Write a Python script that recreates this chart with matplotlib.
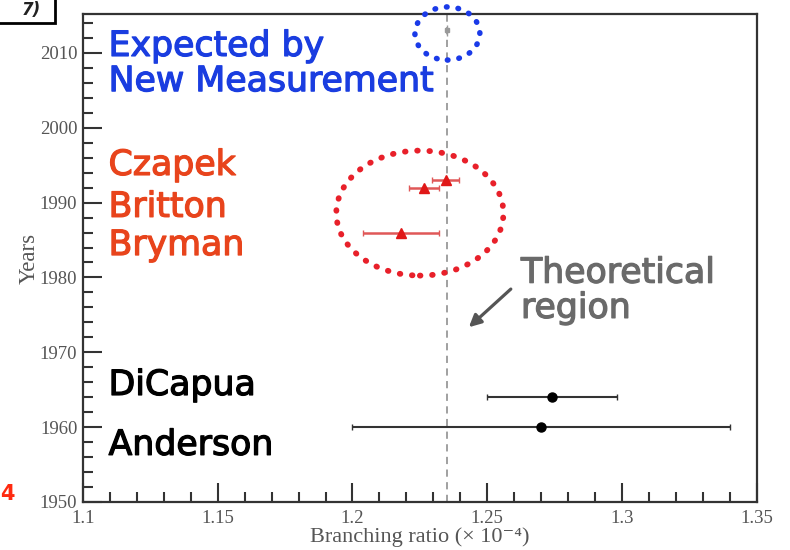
import numpy as np
import matplotlib
matplotlib.use('Agg')
import matplotlib.pyplot as plt
import matplotlib.patheffects as pe
from matplotlib.patches import Ellipse, Rectangle
from matplotlib.ticker import MultipleLocator

# measurements (branching ratio x 1e-4 vs year)
old_names = ['Anderson', 'DiCapua']
old_years = [1960, 1964]
old_br = [1.270, 1.274]
old_err = [0.070, 0.024]

new_names = ['Bryman', 'Britton', 'Czapek']
new_years = [1986, 1992, 1993]
new_br = [1.218, 1.2265, 1.2346]
new_err = [0.014, 0.0056, 0.005]

exp_year = 2013
exp_br = 1.2352
exp_err = 0.0005

theory_br = 1.2352

fig = plt.figure(figsize=(7.9, 5.5), dpi=100)
ax = fig.add_axes([0.105, 0.0873, 0.853, 0.8872])

serif = ['Liberation Serif', 'DejaVu Serif']
sans = ['DejaVu Sans']

ax.axvline(theory_br, color='#999999', lw=1.3, ls=(0, (4, 3)), zorder=1)

ax.errorbar(old_br, old_years, xerr=old_err, fmt='o', color='black',
            ecolor='#333333', ms=6.5, lw=1.5, capsize=2, capthick=1, zorder=3)
ax.errorbar(new_br, new_years, xerr=new_err, fmt='^', color='#e01818',
            ecolor='#e05858', ms=7.5, lw=1.8, capsize=2, capthick=1, zorder=3)
ax.errorbar([exp_br], [exp_year], xerr=[exp_err], yerr=[0.8], fmt='s',
            color='#999999', ms=3, lw=1, zorder=3)

# dotted circles
red_ring = Ellipse((1.225, 1988.6), 0.062, 16.7, fill=False, ec='#e8202a',
                   lw=4.2, ls=(0, (0.1, 2.0)), capstyle='round', zorder=4)
ax.add_patch(red_ring)
blue_ring = Ellipse((1.2352, 2012.6), 0.0241, 7.1, fill=False, ec='#1a3ae8',
                    lw=4.0, ls=(0, (0.1, 2.0)), capstyle='round', zorder=4,
                    clip_on=False)
ax.add_patch(blue_ring)

# annotations (baseline positions), regular font thickened a little
blue = '#1a3de0'
red = '#e8441c'
grey = '#6a6a6a'
fs = 25


def label_text(x, y, s, col):
    t = ax.text(x, y, s, color=col, fontsize=fs, family=sans,
                va='baseline', ha='left')
    t.set_path_effects([pe.Stroke(linewidth=0.9, foreground=col), pe.Normal()])
    return t


labels = [('Expected by', 2009.6, blue), ('New Measurement', 2004.9, blue),
          ('Czapek', 1993.7, red), ('Britton', 1988.1, red),
          ('Bryman', 1983.0, red), ('DiCapua', 1964.3, 'black'),
          ('Anderson', 1956.3, 'black')]
for label, yy, col in labels:
    label_text(1.1095, yy, label, col)
label_text(1.2625, 1979.3, 'Theoretical', grey)
label_text(1.2625, 1974.6, 'region', grey)
ax.annotate('', xy=(1.2424, 1973.1), xytext=(1.2595, 1978.7),
            arrowprops=dict(arrowstyle='-|>', color='#555555', lw=2.3,
                            mutation_scale=18))

ax.set_xlim(1.1, 1.35)
ax.set_ylim(1950, 2015.2)
ax.xaxis.set_minor_locator(MultipleLocator(0.01))
ax.yaxis.set_minor_locator(MultipleLocator(2))
ax.set_xticks([1.1, 1.15, 1.2, 1.25, 1.3, 1.35])
ax.set_xticklabels(['1.1', '1.15', '1.2', '1.25', '1.3', '1.35'])
ax.set_yticks([1950, 1960, 1970, 1980, 1990, 2000, 2010])
ax.tick_params(which='both', direction='in', top=False, right=False,
               color='#333333', labelcolor='#555555', labelsize=13.5)
ax.tick_params(which='major', length=14, width=1.5)
ax.tick_params(which='minor', length=7.5, width=1.5)
ax.tick_params(axis='x', pad=6)
ax.tick_params(axis='y', pad=4)
for lab in ax.get_xticklabels() + ax.get_yticklabels():
    lab.set_family(serif)
for sp in ax.spines.values():
    sp.set_color('#333333')
    sp.set_linewidth(1.6)

ax.set_xlabel('Branching ratio (× 10⁻⁴)', family=serif, fontsize=16,
              color='#555555', labelpad=0)
ax.set_ylabel('Years', family=serif, fontsize=16.5, color='#555555',
              labelpad=0)

# cropped panel label and stray marker from the source slide
fig.patches.append(Rectangle((-0.01, 0.958), 0.08, 0.06, fill=False,
                             ec='black', lw=2, transform=fig.transFigure))
fig.text(0.04, 0.982, '7)', fontsize=12, style='italic', weight='bold',
         family=sans, ha='center', va='center', color='#222222')
fig.text(0.0, 0.102, '4', fontsize=15, weight='bold', color='#ff2a10',
         family=sans, ha='left', va='center')

fig.savefig('out.png', dpi=100)
